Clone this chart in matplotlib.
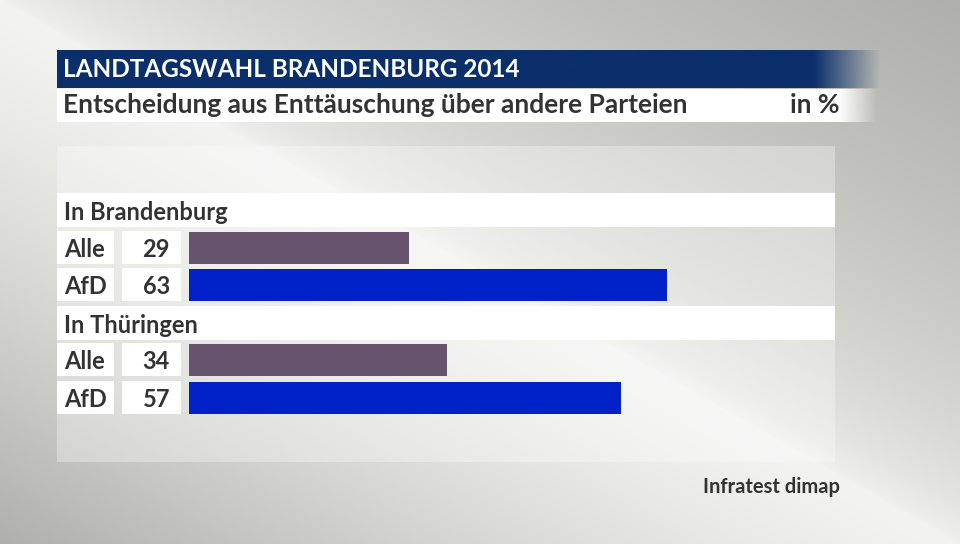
import numpy as np
import matplotlib
matplotlib.use("Agg")
import matplotlib.pyplot as plt
from matplotlib.patches import Rectangle

plt.rcParams['font.family'] = ['Lato', 'DejaVu Sans']

title = "LANDTAGSWAHL BRANDENBURG 2014"
subtitle = "Entscheidung aus Enttäuschung über andere Parteien"
unit = "in %"
source = "Infratest dimap"
groups = ["In Brandenburg", "In Thüringen"]
categories = ["Alle", "AfD"]
values = [[29, 63], [34, 57]]
bar_colors = ["#66546f", "#0020c8"]

W, H = 960, 544
fig = plt.figure(figsize=(9.6, 5.44), dpi=100)

# background gradient: light band along the main diagonal
bg = fig.add_axes([0, 0, 1, 1])
bg.set_axis_off()
yy, xx = np.mgrid[0:H, 0:W].astype(float)
diag = np.hypot(W, H)
u = (-H * xx + W * yy) / diag
umax = W * H / diag
t = np.where(u >= 0, (np.clip(u / umax, 0, 1)) ** 1.3, (np.clip(-u / umax, 0, 1)) ** 0.6)
light = np.array([0.953, 0.953, 0.937])
dark = np.array([0.69, 0.69, 0.667])
img = light[None, None, :] * (1 - t[..., None]) + dark[None, None, :] * t[..., None]
bg.imshow(img, extent=[0, W, H, 0], aspect='auto', interpolation='bilinear')
bg.set_xlim(0, W)
bg.set_ylim(H, 0)

ax = fig.add_axes([0, 0, 1, 1], facecolor='none')
ax.set_axis_off()

def fade_bar(x0, x1, fade0, y0, y1, rgb):
    n = 400
    xs = np.linspace(x0, x1, n)
    alpha = np.clip((x1 - xs) / (x1 - fade0), 0, 1)
    arr = np.zeros((1, n, 4))
    arr[0, :, :3] = rgb
    arr[0, :, 3] = alpha
    ax.imshow(arr, extent=[x0, x1, y1, y0], aspect='auto', interpolation='bilinear', zorder=2)

fade_bar(57, 882, 815, 50, 88, np.array([10, 47, 107]) / 255)
fade_bar(57, 878, 840, 89, 122, np.array([1.0, 1.0, 1.0]))
ax.set_xlim(0, W)
ax.set_ylim(H, 0)

txt = '#333333'
ax.text(63, 77, title, color='white', fontsize=17.5, fontweight='bold', va='baseline', ha='left', zorder=3)
ax.text(63, 113, subtitle, color=txt, fontsize=19, fontweight='bold', va='baseline', ha='left', zorder=3)
ax.text(840, 113, unit, color=txt, fontsize=19, fontweight='bold', va='baseline', ha='right', zorder=3)

# light panel
ax.add_patch(Rectangle((57, 146), 778, 316, facecolor='white', alpha=0.3, edgecolor='none', zorder=1))

# bars axis (0..100 % over bar region)
px_per_pct = (667 - 189) / 63.0
bax = fig.add_axes([189 / W, 0, 100 * px_per_pct / W, 1], facecolor='none')
bax.set_axis_off()
bax.set_xlim(0, 100)
bax.set_ylim(H, 0)

header_tops = [193, 306]
row_tops = [[231, 268], [343, 381]]
for g, gname in enumerate(groups):
    ht = header_tops[g]
    ax.add_patch(Rectangle((57, ht), 778, 34, facecolor='white', edgecolor='none', zorder=2))
    ax.text(64, ht + 27, gname, color=txt, fontsize=17, fontweight='bold', va='baseline', ha='left', zorder=3)
    for i, cat in enumerate(categories):
        rt = row_tops[g][i]
        ax.add_patch(Rectangle((57, rt), 57, 33, facecolor='white', edgecolor='none', zorder=2))
        ax.add_patch(Rectangle((122, rt), 59, 33, facecolor='white', edgecolor='none', zorder=2))
        ax.text(64, rt + 25.7, cat, color=txt, fontsize=17, fontweight='bold', va='baseline', ha='left', zorder=3)
        ax.text(170, rt + 25.7, str(values[g][i]), color=txt, fontsize=17, fontweight='bold', va='baseline', ha='right', zorder=3)
        bax.barh(rt + 16.5, values[g][i], height=32, left=0, color=bar_colors[i], edgecolor='none', zorder=3)

ax.text(840, 493, source, color=txt, fontsize=14.5, fontweight='bold', va='baseline', ha='right', zorder=3)

fig.savefig("out.png", dpi=100)
